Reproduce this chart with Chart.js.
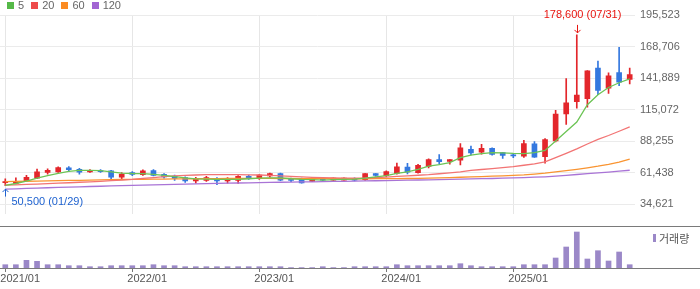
<!DOCTYPE html>
<html>
<head>
<meta charset="utf-8">
<script src="https://cdn.jsdelivr.net/npm/chart.js@4.4.1/dist/chart.umd.min.js"></script>
<style>
  body { margin: 0; background: #fff; }
  #wrap { position: relative; width: 700px; height: 289px; font-family: 'Liberation Sans', Arial, sans-serif; }
  canvas { position: absolute; left: 0; }
  #priceChart { top: 0; }
  #volChart { top: 226px; }
  #legend { position: absolute; left: 7px; top: 0; height: 10px; display: flex; align-items: center; font-size: 11px; color: #666; }
  #legend span.box { display: inline-block; width: 7px; height: 7px; margin-right: 4px; }
  #legend span.txt { margin-right: 7px; line-height: 10px; }
  #volLegend { position: absolute; left: 653px; top: 231px; display: flex; align-items: center; font-family: 'Noto Sans CJK KR', sans-serif; font-size: 11px; color: #555; line-height: 14px; }
  #volLegend span.box { display: inline-block; width: 3px; height: 8px; background: #9b88c8; margin-right: 3px; }
</style>
</head>
<body>
<div id="wrap">
  <canvas id="priceChart" width="700" height="226"></canvas>
  <canvas id="volChart" width="700" height="63"></canvas>
  <div id="legend"></div>
  <div id="volLegend"><span class="box"></span><span>거래량</span></div>
</div>
<script>
const months = [
  '2021/01','2021/02','2021/03','2021/04','2021/05','2021/06','2021/07','2021/08','2021/09','2021/10','2021/11','2021/12',
  '2022/01','2022/02','2022/03','2022/04','2022/05','2022/06','2022/07','2022/08','2022/09','2022/10','2022/11','2022/12',
  '2023/01','2023/02','2023/03','2023/04','2023/05','2023/06','2023/07','2023/08','2023/09','2023/10','2023/11','2023/12',
  '2024/01','2024/02','2024/03','2024/04','2024/05','2024/06','2024/07','2024/08','2024/09','2024/10','2024/11','2024/12',
  '2025/01','2025/02','2025/03','2025/04','2025/05','2025/06','2025/07','2025/08','2025/09','2025/10','2025/11','2025/12'
];

const openPrices = [
  53000, 52300, 54700, 56800, 61600, 62200, 65600, 64300, 62200, 63200, 63000, 57600,
  61600, 59700, 63200, 60000, 58500, 57300, 54400, 54900, 56500, 54400, 54900, 58400,
  56800, 58700, 60600, 55500, 56000, 54100, 56000, 55200, 55200, 56300, 55500, 60600,
  58900, 60800, 66200, 61400, 66700, 72600, 71000, 72000, 81400, 78800, 82200, 78500,
  76600, 75500, 86000, 75000, 88400, 111400, 121800, 124300, 150500, 133300, 146500, 140700
];
const highPrices = [
  56300, 57100, 59200, 64600, 64800, 66400, 66700, 65100, 64000, 64000, 63500, 61600,
  62400, 63800, 64000, 60800, 59500, 57900, 57600, 58400, 57300, 57300, 58900, 59500,
  60000, 61100, 61100, 56800, 56800, 56800, 56800, 57100, 57000, 57100, 60800, 60800,
  63000, 69600, 69400, 68600, 73200, 76900, 72700, 86300, 84100, 85500, 82500, 78800,
  77700, 88900, 87900, 90400, 114400, 141500, 178600, 148200, 156400, 146300, 168000, 150400
];
const lowPrices = [
  50500, 52000, 53900, 56300, 60300, 61600, 62400, 60300, 61600, 61600, 55700, 56300,
  58900, 59200, 58700, 56800, 54900, 53100, 52500, 54100, 51300, 52500, 52300, 55700,
  55700, 57600, 54700, 53900, 52500, 53900, 54100, 54900, 55000, 54400, 54900, 58400,
  58100, 60300, 60500, 61100, 65600, 68800, 68600, 68000, 76600, 77200, 76400, 73600,
  74200, 74400, 74400, 69600, 87600, 102600, 116400, 117200, 127800, 128800, 135500, 137000
];
const closePrices = [
  53600, 54100, 57600, 62200, 63500, 65900, 64000, 61900, 63200, 62400, 57600, 60300,
  60000, 63000, 59200, 57900, 56500, 54400, 56500, 57300, 54400, 56000, 58400, 56800,
  59500, 60800, 55200, 54900, 52800, 56000, 55200, 56800, 56800, 55200, 60600, 59200,
  62400, 66400, 61900, 67800, 72600, 70800, 72600, 82500, 78200, 82200, 76900, 76100,
  75800, 86300, 74700, 89600, 111200, 120800, 127500, 148000, 131300, 143900, 138500, 144900
];

const ma5 = [
  50750, 52280, 54370, 56770, 58950, 60790, 62560, 63360, 63360, 63200, 62160, 61120,
  60790, 60710, 59990, 59190, 58140, 57100, 56130, 55970, 55730, 55730, 55730, 56290,
  56770, 57100, 57100, 56290, 55730, 55490, 55170, 55490, 55730, 55970, 56770, 57900,
  58950, 60790, 62160, 64320, 66980, 68350, 69950, 74210, 76380, 77660, 78470, 78230,
  77830, 77660, 78470, 80400, 88430, 96460, 104500, 119200, 127800, 133900, 137920, 141130
];
const ma20 = [
  50900, 51150, 51470, 51710, 52120, 52520, 52920, 53320, 53720, 54130, 54690, 55170,
  55730, 56540, 57340, 58140, 58700, 59110, 59510, 59750, 59750, 59750, 59750, 59670,
  59510, 59190, 58780, 58380, 57900, 57500, 57260, 57020, 56860, 56770, 56940, 57340,
  57740, 58300, 58780, 59270, 59750, 60550, 61360, 62160, 63360, 64170, 64970, 65770,
  66580, 67780, 68990, 70600, 74210, 77830, 81680, 85860, 89720, 93090, 96700, 100480
];
const ma60 = [
  53880, 54040, 54200, 54360, 54530, 54690, 54850, 55010, 55170, 55330, 55490, 55650,
  55810, 55890, 55970, 56050, 56130, 56210, 56290, 56370, 56450, 56530, 56530, 56610,
  56610, 56610, 56530, 56530, 56450, 56450, 56370, 56370, 56290, 56290, 56290, 56370,
  56370, 56450, 56530, 56700, 56860, 57100, 57340, 57580, 57900, 58140, 58460, 58780,
  59110, 59590, 60310, 61110, 62160, 63200, 64330, 65610, 66980, 68590, 70430, 73000
];
const ma120 = [
  47460, 47780, 48100, 48420, 48660, 48900, 49220, 49470, 49710, 49950, 50190, 50430,
  50670, 50910, 51150, 51390, 51550, 51800, 51960, 52200, 52360, 52520, 52680, 52840,
  53000, 53160, 53320, 53480, 53640, 53720, 53880, 54050, 54130, 54290, 54450, 54610,
  54770, 54930, 55090, 55250, 55410, 55570, 55730, 55970, 56130, 56370, 56540, 56780,
  57100, 57340, 57660, 57980, 58460, 59110, 59910, 60630, 61360, 62000, 62720, 63520
];

// thousands of shares
const volumes = [
  330, 330, 770, 670, 330, 330, 230, 230, 130, 130, 230, 230,
  230, 230, 330, 230, 230, 130, 130, 130, 130, 130, 130, 130,
  130, 130, 130, 40, 40, 40, 130, 40, 40, 130, 130, 130,
  130, 330, 230, 230, 230, 230, 230, 430, 230, 130, 130, 130,
  130, 330, 330, 330, 1000, 2100, 3600, 900, 1730, 700, 1600, 330
];

const priceTicks = [34621, 61438, 88255, 115072, 141889, 168706, 195523];
const highDate = '07/31';
const lowDate = '01/29';

const maNames = ['5', '20', '60', '120'];
const maBoxColors = ['#55b948', '#ee4b4b', '#fb8b22', '#a265d3'];
const maLineColors = ['#6cc455', '#f27474', '#f99431', '#a974d6'];

const UP = '#e3262b';
const DOWN = '#3478df';
const candleColors = closePrices.map((c, i) => c >= openPrices[i] ? UP : DOWN);
const isYearStart = label => label.endsWith('/01');
const FONT = "'Liberation Sans', Arial, sans-serif";

// legend
const legendEl = document.getElementById('legend');
maNames.forEach((name, i) => {
  legendEl.insertAdjacentHTML('beforeend',
    '<span class="box" style="background:' + maBoxColors[i] + '"></span><span class="txt">' + name + '</span>');
});

const extremeMarks = {
  id: 'extremeMarks',
  afterDatasetsDraw(chart) {
    const { ctx, scales: { x, y } } = chart;
    const hi = Math.max(...highPrices);
    const hiIdx = highPrices.indexOf(hi);
    const lo = Math.min(...lowPrices);
    const loIdx = lowPrices.indexOf(lo);
    ctx.save();
    ctx.font = '11px ' + FONT;
    ctx.textBaseline = 'middle';
    ctx.lineWidth = 1;

    let px = Math.round(x.getPixelForValue(hiIdx)) + 0.5;
    let py = y.getPixelForValue(hi);
    ctx.strokeStyle = ctx.fillStyle = '#e8140f';
    ctx.beginPath();
    ctx.moveTo(px, py - 10); ctx.lineTo(px, py - 2);
    ctx.moveTo(px - 3, py - 5); ctx.lineTo(px, py - 2); ctx.lineTo(px + 3, py - 5);
    ctx.stroke();
    ctx.textAlign = 'center';
    ctx.fillText(hi.toLocaleString('en-US') + ' (' + highDate + ')', px + 5, py - 20);

    px = Math.round(x.getPixelForValue(loIdx)) + 0.5;
    py = y.getPixelForValue(lo);
    ctx.strokeStyle = ctx.fillStyle = '#1e62d0';
    ctx.beginPath();
    ctx.moveTo(px, py + 11); ctx.lineTo(px, py + 3.5);
    ctx.moveTo(px - 3, py + 6.5); ctx.lineTo(px, py + 3.5); ctx.lineTo(px + 3, py + 6.5);
    ctx.stroke();
    ctx.textAlign = 'left';
    ctx.fillText(lo.toLocaleString('en-US') + ' (' + lowDate + ')', px + 6, py + 16);
    ctx.restore();
  }
};

const frameLines = {
  id: 'frameLines',
  afterDraw(chart) {
    const { ctx, chartArea } = chart;
    ctx.save();
    ctx.strokeStyle = '#7a7a7a';
    ctx.lineWidth = 1;
    ctx.beginPath();
    ctx.moveTo(0, chartArea.top + 0.5); ctx.lineTo(chart.width, chartArea.top + 0.5);
    ctx.moveTo(0, chartArea.bottom + 0.5); ctx.lineTo(chart.width, chartArea.bottom + 0.5);
    ctx.stroke();
    ctx.restore();
  }
};

const maSets = [ma5, ma20, ma60, ma120].map((data, i) => ({
  type: 'line',
  label: maNames[i],
  data: data,
  borderColor: maLineColors[i],
  borderWidth: 1.3,
  pointRadius: 0,
  tension: 0
}));

new Chart(document.getElementById('priceChart'), {
  data: {
    labels: months,
    datasets: [
      ...maSets,
      {
        type: 'bar',
        label: 'body',
        data: months.map((m, i) => [openPrices[i], closePrices[i]]),
        backgroundColor: candleColors,
        barThickness: 5,
        minBarLength: 1,
        grouped: false
      },
      {
        type: 'bar',
        label: 'wick',
        data: months.map((m, i) => [lowPrices[i], highPrices[i]]),
        backgroundColor: candleColors,
        barThickness: 1,
        grouped: false
      }
    ]
  },
  options: {
    responsive: false,
    animation: false,
    layout: { padding: { top: 15, left: 0, right: 0, bottom: 0 } },
    plugins: { legend: { display: false }, tooltip: { enabled: false } },
    scales: {
      x: {
        offset: true,
        grid: {
          offset: false,
          drawTicks: false,
          color: ctx => isYearStart(months[ctx.index] || '') ? '#e6e6e6' : 'rgba(0,0,0,0)'
        },
        border: { display: false },
        ticks: { display: false },
        afterFit: s => { s.height = 0; }
      },
      y: {
        position: 'right',
        min: 26000,
        max: 195523,
        afterBuildTicks: s => { s.ticks = priceTicks.map(v => ({ value: v })); },
        ticks: {
          padding: 5,
          color: '#666',
          font: { family: FONT, size: 11 },
          callback: v => Number(v).toLocaleString('en-US')
        },
        grid: { color: '#ebebeb', drawTicks: false },
        border: { display: false },
        afterFit: s => { s.width = 65; }
      }
    }
  },
  plugins: [extremeMarks]
});

new Chart(document.getElementById('volChart'), {
  type: 'bar',
  data: {
    labels: months,
    datasets: [{
      label: '거래량',
      data: volumes,
      backgroundColor: '#9b88c8',
      barThickness: 5
    }]
  },
  options: {
    responsive: false,
    animation: false,
    layout: { padding: 0 },
    plugins: { legend: { display: false }, tooltip: { enabled: false } },
    scales: {
      x: {
        offset: true,
        grid: {
          offset: false,
          drawOnChartArea: false,
          drawTicks: true,
          tickLength: 4,
          color: ctx => isYearStart(months[ctx.index] || '') ? '#777' : 'rgba(0,0,0,0)'
        },
        border: { display: false },
        ticks: {
          autoSkip: false,
          maxRotation: 0,
          minRotation: 0,
          align: 'start',
          labelOffset: -5,
          padding: 0,
          color: '#555',
          font: { family: FONT, size: 11 },
          callback: (v, i) => isYearStart(months[i]) ? months[i] : ''
        },
        afterFit: s => { s.height = 21; }
      },
      y: {
        position: 'right',
        min: 0,
        max: 4200,
        ticks: { display: false },
        grid: { display: false },
        border: { display: false },
        afterFit: s => { s.width = 65; }
      }
    }
  },
  plugins: [frameLines]
});
</script>
</body>
</html>
